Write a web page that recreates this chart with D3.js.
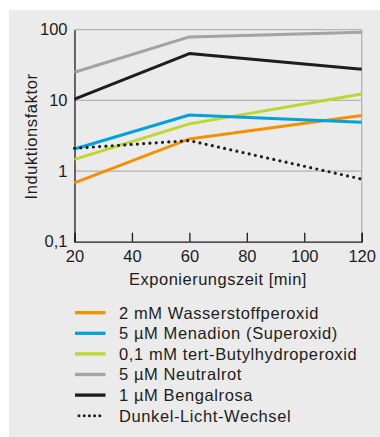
<!DOCTYPE html>
<html><head><meta charset="utf-8">
<script src="https://cdn.jsdelivr.net/npm/d3@7/dist/d3.min.js"></script>
<style>
html,body{margin:0;padding:0;background:#fff;}
svg{display:block;font-family:"Liberation Sans",Arial,Helvetica,sans-serif;}
</style></head><body>
<svg id="c" width="380" height="437"></svg>
<script>
const times = [20, 60, 120];
const seriesNames = ["2 mM Wasserstoffperoxid","5 µM Menadion (Superoxid)","0,1 mM tert-Butylhydroperoxid","5 µM Neutralrot","1 µM Bengalrosa","Dunkel-Licht-Wechsel"];
const wasserstoffperoxid = [0.68, 2.85, 6.1];
const menadion = [2.05, 6.2, 4.9];
const butylhydroperoxid = [1.46, 4.65, 12.3];
const neutralrot = [25, 79, 92];
const bengalrosa = [10.4, 46, 27.5];
const dunkelLicht = [2.1, 2.7, 0.77];
const xTicks = [20, 40, 60, 80, 100, 120];
const yTicks = [0.1, 1, 10, 100];
const yTickLabels = ["0,1", "1", "10", "100"];

const colors = ["#f39200", "#00a3d9", "#bed630", "#a3a3a3", "#1d1d1b", "#1d1d1b"];
const allValues = [wasserstoffperoxid, menadion, butylhydroperoxid, neutralrot, bengalrosa, dunkelLicht];

const svg = d3.select("#c");
svg.append("rect").attr("x", 9).attr("y", 10).attr("width", 371).attr("height", 427).attr("fill", "#ebebeb");

const x = d3.scaleLinear().domain([20, 120]).range([74.5, 361.7]);
const y = d3.scaleLog().domain([0.1, 100]).range([241.7, 29.7]);

// gridlines
svg.append("g").selectAll("line").data([1, 10, 100]).join("line")
  .attr("x1", x(20)).attr("x2", x(120))
  .attr("y1", d => y(d)).attr("y2", d => y(d))
  .attr("stroke", "#b3b3b3").attr("stroke-width", 1.3);
// right border
svg.append("line").attr("x1", x(120)).attr("x2", x(120)).attr("y1", y(100)).attr("y2", y(0.1))
  .attr("stroke", "#b3b3b3").attr("stroke-width", 1.3);

// axes
const xAxis = d3.axisBottom(x).tickValues(xTicks).tickSize(-9).tickPadding(12).tickFormat(d3.format("d"));
const gx = svg.append("g").attr("transform", `translate(0,${y(0.1)})`).call(xAxis);
gx.select(".domain").attr("stroke", "#1d1d1b").attr("stroke-width", 1.3);
gx.selectAll(".tick line").attr("stroke", "#1d1d1b").attr("stroke-width", 1.3);
gx.selectAll(".tick text").attr("font-size", 16.5).attr("fill", "#1d1d1b").attr("font-family", null).attr("dy", "0.71em").attr("y", 9);

const yAxis = d3.axisLeft(y).tickValues(yTicks).tickSize(0).tickPadding(7)
  .tickFormat((d, i) => yTickLabels[yTicks.indexOf(d)]);
const gy = svg.append("g").attr("transform", `translate(${x(20)},0)`).call(yAxis);
gy.select(".domain").attr("stroke", "#1d1d1b").attr("stroke-width", 1.3);
gy.selectAll(".tick text").attr("font-size", 16.5).attr("fill", "#1d1d1b").attr("font-family", null);

// lines
const line = d3.line().x((d, i) => x(times[i])).y(d => y(d));
const order = [3, 4, 0, 2, 1, 5];
order.forEach(k => {
  const p = svg.append("path").datum(allValues[k]).attr("d", line)
    .attr("fill", "none").attr("stroke", colors[k]).attr("stroke-width", 3)
    .attr("stroke-linejoin", "round");
  if (k === 5) p.attr("stroke-dasharray", "0 6.3").attr("stroke-linecap", "round").attr("stroke-width", 3.2);
});

// axis titles
svg.append("text").attr("x", 218).attr("y", 285).attr("text-anchor", "middle")
  .attr("font-size", 16.5).attr("letter-spacing", 0.5).attr("fill", "#1d1d1b").text("Exponierungszeit [min]");
svg.append("text").attr("transform", "translate(37,136.5) rotate(-90)").attr("text-anchor", "middle")
  .attr("font-size", 16.5).attr("letter-spacing", 0.6).attr("fill", "#1d1d1b").text("Induktionsfaktor");

// legend
const lg = svg.append("g");
seriesNames.forEach((name, i) => {
  const cy = 312.7 + i * 20.6;
  const l = lg.append("line").attr("x1", 75).attr("x2", 105.5).attr("y1", cy).attr("y2", cy)
    .attr("stroke", colors[i]).attr("stroke-width", 3.3);
  if (i === 5) l.attr("stroke-dasharray", "0 5.2").attr("stroke-linecap", "round").attr("x1", 79).attr("x2", 101).attr("stroke-width", 3);
  lg.append("text").attr("x", 119).attr("y", cy + 5.8).attr("font-size", 16.5).attr("letter-spacing", 0.6).attr("fill", "#1d1d1b").text(name);
});
</script>
</body></html>
